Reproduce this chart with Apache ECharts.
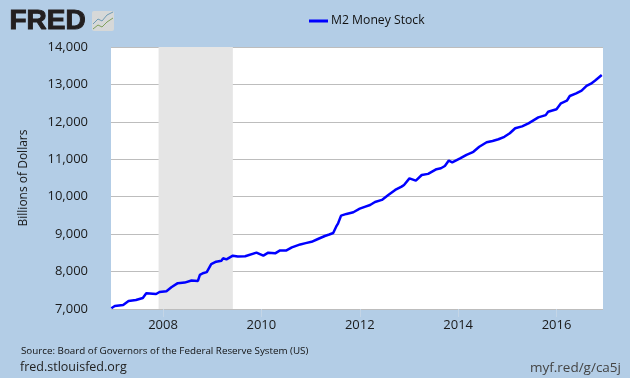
<!DOCTYPE html>
<html>
<head>
<meta charset="utf-8">
<title>M2 Money Stock</title>
<script src="https://cdn.jsdelivr.net/npm/echarts@6/dist/echarts.min.js"></script>
<style>
html, body { margin: 0; padding: 0; background: #b3cde6; }
#container { width: 630px; height: 378px; }
</style>
</head>
<body>
<div id="container"></div>
<script>
// values, x in decimal years, y in billions of dollars
var years = [2006.95, 2007.02, 2007.19, 2007.30, 2007.45, 2007.59, 2007.66, 2007.67, 2007.86, 2007.93,
    2008.07, 2008.17, 2008.30, 2008.44, 2008.58, 2008.71, 2008.75, 2008.81, 2008.89, 2008.98,
    2009.08, 2009.19, 2009.22, 2009.29, 2009.42, 2009.52, 2009.67, 2009.90, 2010.04, 2010.14,
    2010.28, 2010.38, 2010.51, 2010.62, 2010.79, 2010.90, 2011.02, 2011.15, 2011.29, 2011.38, 2011.46, 2011.52, 2011.56,
    2011.62, 2011.73, 2011.87, 2012.00, 2012.10, 2012.21, 2012.31, 2012.45, 2012.58, 2012.72, 2012.85,
    2012.90, 2013.01, 2013.14, 2013.26, 2013.39, 2013.56, 2013.65, 2013.73, 2013.81, 2013.88, 2014.04,
    2014.17, 2014.31, 2014.43, 2014.58, 2014.70, 2014.82, 2014.94, 2015.05, 2015.16, 2015.30, 2015.43, 2015.53, 2015.63, 2015.78,
    2015.83, 2016.00, 2016.09, 2016.21, 2016.27, 2016.40, 2016.51, 2016.61, 2016.70, 2016.78, 2016.92];
var m2 = [7020, 7080, 7107, 7215, 7240, 7295, 7420, 7375, 7400, 7455,
    7475, 7580, 7690, 7705, 7760, 7750, 7910, 7955, 7985, 8200,
    8265, 8290, 8355, 8325, 8425, 8400, 8410, 8505, 8425, 8505,
    8487, 8565, 8565, 8645, 8725, 8760, 8795, 8870, 8950, 8990, 9030, 9200, 9290,
    9495, 9540, 9585, 9680, 9730, 9780, 9860, 9915, 10045, 10180, 10270,
    10315, 10490, 10430, 10580, 10610, 10735, 10760, 10820, 10965, 10920, 11025,
    11120, 11200, 11335, 11455, 11490, 11535, 11600, 11695, 11830, 11880, 11960, 12040, 12120, 12180,
    12270, 12335, 12495, 12565, 12690, 12760, 12835, 12960, 13020, 13100, 13250];
var yearTicks = [2008, 2010, 2012, 2014, 2016];
var recession = [2007.91, 2009.42];

var font = '"Open Sans"';
var textColor = '#1a1a1a';

var dom = document.getElementById('container');
var myChart = echarts.init(dom, null, { renderer: 'canvas' });

var option = {
    animation: false,
    backgroundColor: '#b3cde6',
    textStyle: { fontFamily: font },
    legend: {
        left: 304,
        top: 10,
        icon: 'rect',
        itemWidth: 19,
        itemHeight: 3,
        itemGap: 0,
        textStyle: { fontFamily: font, fontSize: 12.2, color: '#111', padding: [0, 0, 0, -2] },
        data: ['M2 Money Stock']
    },
    grid: { left: 111, right: 27, top: 47, bottom: 69, backgroundColor: '#fff', show: true, borderWidth: 0 },
    xAxis: {
        type: 'value',
        min: 2006.943,
        max: 2016.945,
        splitLine: { show: false },
        axisLine: { show: false },
        axisTick: {
            show: true,
            customValues: yearTicks,
            length: 8,
            lineStyle: { color: '#c4d5e6', width: 1 }
        },
        axisLabel: {
            customValues: yearTicks,
            margin: 10,
            fontSize: 13,
            color: textColor,
            formatter: function (v) { return String(v); }
        }
    },
    yAxis: {
        type: 'value',
        min: 7000,
        max: 14000,
        interval: 1000,
        name: 'Billions of Dollars',
        nameLocation: 'middle',
        nameGap: 81,
        nameTextStyle: { fontSize: 12, color: textColor },
        axisLine: { show: false },
        axisTick: { show: false },
        splitLine: { lineStyle: { color: '#bdbdbd', width: 1 } },
        axisLabel: {
            margin: 23,
            fontSize: 13,
            color: textColor,
            formatter: function (v) { return v.toLocaleString('en-US'); }
        }
    },
    series: [
        {
            name: 'M2 Money Stock',
            type: 'line',
            showSymbol: false,
            symbol: 'none',
            color: '#0000ff',
            lineStyle: { color: '#0000ff', width: 2.5 },
            clip: false,
            data: years.map(function (y, i) { return [y, m2[i]]; }),
            markArea: {
                silent: true,
                itemStyle: { color: '#e5e5e5' },
                data: [[{ xAxis: recession[0] }, { xAxis: recession[1] }]]
            },
            z: 3
        }
    ],
    graphic: [
        // logo
        { type: 'text', left: 9, top: 7, style: { text: 'FRED', font: '900 28px "Liberation Sans"', fill: '#231f20', stroke: '#231f20', lineWidth: 1 } },
        { type: 'rect', shape: { x: 92, y: 11, width: 22, height: 20, r: 2 }, style: { fill: '#d6d8d8' } },
        { type: 'polyline', shape: { points: [[93, 24], [98, 19], [102, 21], [107, 15], [113, 12]] }, style: { stroke: '#6f9bb5', fill: null, lineWidth: 1 } },
        { type: 'polyline', shape: { points: [[93, 29], [98, 25], [102, 27], [107, 22], [113, 18]] }, style: { stroke: '#7fa05a', fill: null, lineWidth: 1 } },
        // footer
        { type: 'text', left: 21, top: 346, style: { text: 'Source: Board of Governors of the Federal Reserve System (US)', font: '9.8px "Open Sans"', fill: '#111' } },
        { type: 'text', left: 20, top: 361, style: { text: 'fred.stlouisfed.org', font: '12.5px "Open Sans"', fill: '#222' } },
        { type: 'text', right: 9, top: 361, style: { text: 'myf.red/g/ca5j', font: '13.5px "Open Sans"', fill: '#444' } }
    ]
};

myChart.setOption(option);
window.addEventListener('resize', myChart.resize);
</script>
</body>
</html>
